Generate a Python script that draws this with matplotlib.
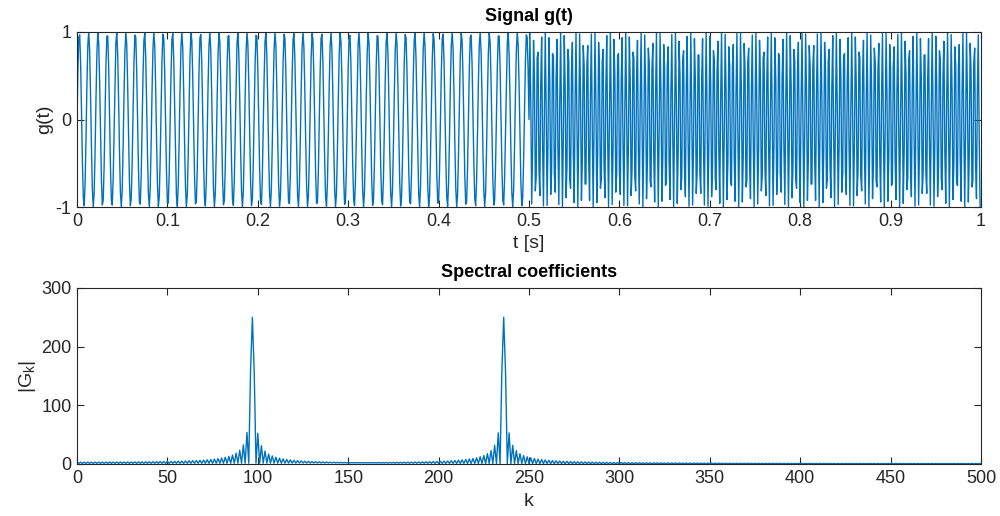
import numpy as np
import matplotlib
matplotlib.use("Agg")
import matplotlib.pyplot as plt

# parameters of the displayed signal
fs = 1000            # samples per second
duration = 1.0       # seconds
f_first = 97         # Hz, first half
f_second = 236       # Hz, second half
t_switch = 0.5       # s

t_ticks = [0, 0.1, 0.2, 0.3, 0.4, 0.5, 0.6, 0.7, 0.8, 0.9, 1]
g_ticks = [-1, 0, 1]
k_ticks = [0, 50, 100, 150, 200, 250, 300, 350, 400, 450, 500]
G_ticks = [0, 100, 200, 300]

t = np.arange(int(fs * duration)) / fs
g = np.where(t < t_switch, np.sin(2 * np.pi * f_first * t), np.sin(2 * np.pi * f_second * t))
G = np.fft.fft(g)
k = np.arange(0, 501)
Gk = np.abs(G[:501])

plt.rcParams['font.family'] = ['Liberation Sans', 'DejaVu Sans']
plt.rcParams['axes.unicode_minus'] = False
col = '#0072BD'
txt = '#262626'
axc = '#262626'

fig = plt.figure(figsize=(10, 5.16), dpi=100)
ax1 = fig.add_axes([0.077, 1 - 207/516, 0.904, 175/516])
ax2 = fig.add_axes([0.077, 1 - 464/516, 0.904, 176/516])

ax1.plot(t, g, color=col, lw=1.0)
ax1.set_xlim(0, 1)
ax1.set_ylim(-1, 1)
ax1.set_xticks(t_ticks)
ax1.set_xticklabels([f"{v:g}" for v in t_ticks])
ax1.set_yticks(g_ticks)
ax1.set_title('Signal g(t)', fontsize=13, fontweight='bold', color='black', pad=8)
ax1.set_xlabel('t [s]', fontsize=14, color=txt, labelpad=4)
ax1.set_ylabel('g(t)', fontsize=14, color=txt, labelpad=2)

ax2.plot(k, Gk, color=col, lw=1.0)
ax2.set_xlim(0, 500)
ax2.set_ylim(0, 300)
ax2.set_xticks(k_ticks)
ax2.set_yticks(G_ticks)
ax2.set_title('Spectral coefficients', fontsize=13, fontweight='bold', color='black', pad=8)
ax2.set_xlabel('k', fontsize=14, color=txt, labelpad=5)
ax2.set_ylabel(r'|G$_\mathregular{k}$|', fontsize=14, color=txt, labelpad=2)

for ax in (ax1, ax2):
    ax.tick_params(direction='in', top=True, right=True, length=5, width=0.8,
                   labelsize=13, colors=axc, labelcolor=txt, pad=4)
    for s in ax.spines.values():
        s.set_color(axc)
        s.set_linewidth(0.8)

fig.savefig('out.png', dpi=100, facecolor='white')
